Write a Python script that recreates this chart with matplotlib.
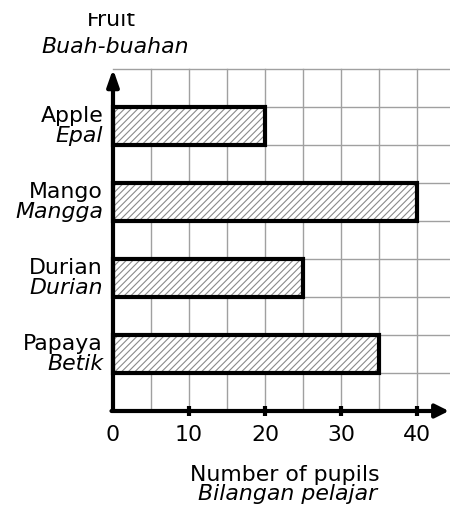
import matplotlib
matplotlib.use("Agg")
import matplotlib.pyplot as plt
from matplotlib.transforms import Bbox, TransformedBbox

# ---- data ----
fruits_en = ["Apple", "Mango", "Durian", "Papaya"]
fruits_ms = ["Epal", "Mangga", "Durian", "Betik"]
pupils = [20, 40, 25, 35]
xticks = [0, 10, 20, 30, 40]
xlabel_en = "Number of pupils"
xlabel_ms = "Bilangan pelajar"
ylabel_en = "Fruit"
ylabel_ms = "Buah-buahan"

plt.rcParams['font.family'] = ['DejaVu Sans']
plt.rcParams['hatch.linewidth'] = 0.8
FS = 15.8

W, H = 450, 517
fig = plt.figure(figsize=(W / 100, H / 100), dpi=100)
ax = fig.add_axes([0, 0, 1, 1])
ax.set_axis_off()

# pixel mapping: origin at (113, 411) px from top-left; 7.6 px per unit in x, 38 px per cell in y
x0, y0, sx, sy = 113, 411, 7.6, 38
ax.set_xlim(-x0 / sx, (W - x0) / sx)
ax.set_ylim(-(H - y0) / sy, y0 / sy)

ncells = 9
xmax_right = (W - x0) / sx
grid_c = "#a0a0a0"
# grid
for gx in range(5, 45, 5):
    ax.plot([gx, gx], [0, ncells], color=grid_c, lw=1, zorder=1)
for gy in range(1, ncells + 1):
    ax.plot([0, xmax_right], [gy, gy], color=grid_c, lw=1, zorder=1)

# bars (top to bottom)
centers = [ncells - 1.5 - 2 * i for i in range(len(pupils))]
ax.barh(centers, pupils, height=1.0, color="white", edgecolor="#8a8a8a",
        hatch="/////", linewidth=0, zorder=2)
ax.barh(centers, pupils, height=1.0, color="none", edgecolor="black",
        linewidth=3, zorder=3)

# axes with arrows
ax.annotate("", xy=(0, ncells), xytext=(0, 0),
            arrowprops=dict(arrowstyle="-|>,head_length=1.0,head_width=0.35",
                            lw=3, color="black", shrinkA=0, shrinkB=0,
                            mutation_scale=10), zorder=5, annotation_clip=False)
ax.annotate("", xy=(44.2, 0), xytext=(-0.2, 0),
            arrowprops=dict(arrowstyle="-|>,head_length=0.8,head_width=0.4",
                            lw=3, color="black", shrinkA=0, shrinkB=0,
                            mutation_scale=10), zorder=5, annotation_clip=False)

# ticks and labels
for t in xticks:
    if t > 0:
        ax.plot([t, t], [-5 / sy, 5 / sy], color="black", lw=3, zorder=5,
                solid_capstyle="butt")
    ax.text(t, -30 / sy, str(t), ha="center", va="baseline", fontsize=FS)

# category labels
for c, en, ms in zip(centers, fruits_en, fruits_ms):
    ax.text(-1.3, c + 4.5 / sy, en, ha="right", va="baseline", fontsize=FS)
    ax.text(-1.3, c - 15.5 / sy, ms, ha="right", va="baseline", fontsize=FS,
            style="italic")

# axis titles
ax.text(22.6, -70 / sy, xlabel_en, ha="center", va="baseline", fontsize=FS)
ax.text(23.0, -89.5 / sy, xlabel_ms, ha="center", va="baseline", fontsize=FS,
        style="italic")
tf = ax.text(-0.2, (y0 - 26.5) / sy, ylabel_en, ha="center", va="baseline",
             fontsize=FS)
tf.set_clip_box(TransformedBbox(Bbox([[0, 0], [1, (H - 12.5) / H]]), fig.transFigure))
tf.set_clip_on(True)
ax.text(0.26, (y0 - 53) / sy, ylabel_ms, ha="center", va="baseline",
        fontsize=FS, style="italic")

fig.savefig("out.png", dpi=100)
